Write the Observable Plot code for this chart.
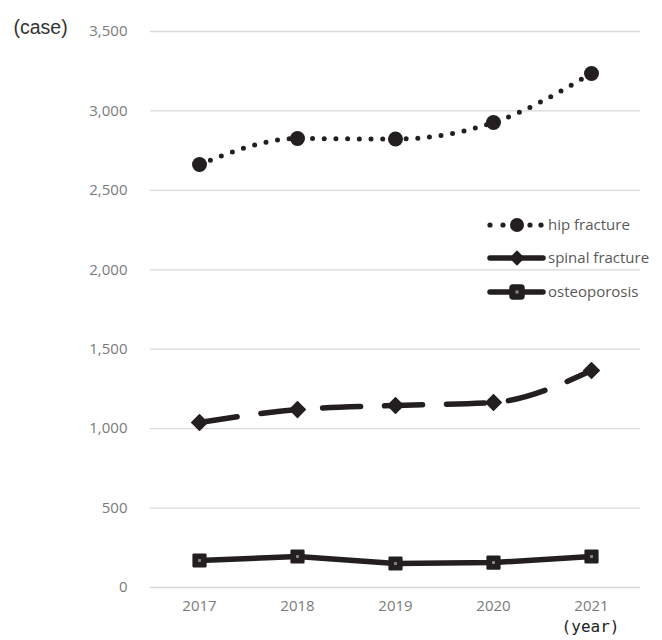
<!DOCTYPE html>
<html>
<head>
<meta charset="utf-8">
<script src="https://cdn.jsdelivr.net/npm/d3@7"></script>
<script src="https://cdn.jsdelivr.net/npm/@observablehq/plot@0.6"></script>
<style>
  html, body { margin: 0; padding: 0; background: #fff; }
  #chart { position: relative; width: 662px; height: 640px; }
</style>
</head>
<body>
<div id="chart"></div>
<script>
const years = [2017, 2018, 2019, 2020, 2021];
const hipFracture = [2663, 2826, 2823, 2927, 3236];
const spinalFracture = [1039, 1120, 1146, 1165, 1366];
const osteoporosis = [170, 195, 151, 157, 195];
const yTicks = [0, 500, 1000, 1500, 2000, 2500, 3000, 3500];
const seriesNames = ["hip fracture", "spinal fracture", "osteoporosis"];

const ink = "#231f20";
const tickColor = "#7a7a7a";
const font = "'Open Sans', 'Noto Sans', sans-serif";

const rows = (vals, name) => years.map((y, i) => ({year: y, value: vals[i], series: name}));
const hip = rows(hipFracture, seriesNames[0]);
const spinal = rows(spinalFracture, seriesNames[1]);
const osteo = rows(osteoporosis, seriesNames[2]);

const chart = Plot.plot({
  width: 662,
  height: 640,
  marginTop: 31,
  marginBottom: 53,
  marginLeft: 150,
  marginRight: 22,
  style: {fontFamily: font, fontSize: "15px", background: "#fff"},
  x: {type: "point", domain: years, padding: 0.5, label: null},
  y: {domain: [0, 3500], label: null},
  marks: [
    Plot.ruleY(yTicks, {stroke: "#d9d9d9", strokeWidth: 1.3}),
    Plot.axisY({ticks: yTicks, tickSize: 0, tickPadding: 23, tickFormat: d3.format(","), fill: tickColor, fontSize: 15, label: null}),
    Plot.axisX({tickSize: 0, tickPadding: 13, tickFormat: d => String(d), fill: tickColor, fontSize: 15, label: null}),
    // hip fracture
    Plot.line(hip, {x: "year", y: "value", stroke: ink, strokeWidth: 5, strokeDasharray: "0,11.7", strokeLinecap: "round", curve: "monotone-x"}),
    Plot.dot(hip, {x: "year", y: "value", r: 7.5, fill: ink, stroke: "none"}),
    // spinal fracture
    Plot.line(spinal, {x: "year", y: "value", stroke: ink, strokeWidth: 5.5, strokeDasharray: "38,24", strokeLinecap: "round", curve: "monotone-x"}),
    Plot.dot(spinal, {x: "year", y: "value", symbol: "diamond2", r: 7, fill: ink, stroke: ink, strokeWidth: 1.5, strokeLinejoin: "round"}),
    // osteoporosis
    Plot.line(osteo, {x: "year", y: "value", stroke: ink, strokeWidth: 5.5, strokeLinejoin: "round"}),
    Plot.dot(osteo, {x: "year", y: "value", symbol: "square", r: 6.6, fill: ink, stroke: ink, strokeWidth: 2.5, strokeLinejoin: "round"}),
    Plot.dot(osteo, {x: "year", y: "value", symbol: "square", r: 1.6, fill: "#8a8a8a", stroke: "none"}),
    // axis titles
    Plot.text(["(case)"], {frameAnchor: "top-left", dx: -137, dy: -11, textAnchor: "start", fill: "#333", fontSize: 19.5, fontFamily: "'Liberation Sans', Arial, sans-serif", letterSpacing: "0.5px"}),
    Plot.text(["(year)"], {frameAnchor: "bottom-right", dx: -50, dy: 44, textAnchor: "middle", fill: "#222", fontSize: 16, fontFamily: "'DejaVu Sans Mono', monospace"})
  ]
});

document.getElementById("chart").appendChild(chart);

// Legend drawn into the same SVG
const svg = d3.select(chart);
const lg = svg.append("g").attr("font-family", font).attr("font-size", 15).attr("text-anchor", "start");
const legendY = [225, 258, 292];
const lx0 = 490, lx1 = 543, lmid = 517, ltext = 548;

// hip
{
  const y = legendY[0];
  [490, 503, 530, 541].forEach(x => lg.append("circle").attr("cx", x).attr("cy", y).attr("r", 2.6).attr("fill", ink));
  lg.append("circle").attr("cx", lmid).attr("cy", y).attr("r", 7).attr("fill", ink);
}
// spinal
{
  const y = legendY[1];
  lg.append("line").attr("x1", lx0).attr("x2", lx1).attr("y1", y).attr("y2", y).attr("stroke", ink).attr("stroke-width", 5.5).attr("stroke-linecap", "round");
  lg.append("path").attr("d", d3.symbol(d3.symbolDiamond2, Math.PI * 36)()).attr("transform", `translate(${lmid},${y})`).attr("fill", ink).attr("stroke", ink).attr("stroke-width", 1.5).attr("stroke-linejoin", "round");
}
// osteo
{
  const y = legendY[2];
  lg.append("line").attr("x1", lx0).attr("x2", lx1).attr("y1", y).attr("y2", y).attr("stroke", ink).attr("stroke-width", 5.5).attr("stroke-linecap", "round");
  lg.append("rect").attr("x", lmid - 6.5).attr("y", y - 6.5).attr("width", 13).attr("height", 13).attr("rx", 2.5).attr("fill", ink).attr("stroke", ink).attr("stroke-width", 2.5).attr("stroke-linejoin", "round");
  lg.append("rect").attr("x", lmid - 1.5).attr("y", y - 1.5).attr("width", 3).attr("height", 3).attr("fill", "#8a8a8a");
}
seriesNames.forEach((name, i) => {
  lg.append("text").attr("x", ltext).attr("y", legendY[i]).attr("dy", "0.35em").attr("fill", "#595959").text(name);
});
</script>
</body>
</html>
